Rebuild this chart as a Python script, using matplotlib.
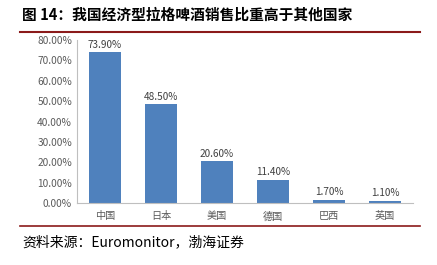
import matplotlib
matplotlib.use('Agg')
from matplotlib import pyplot as plt
from matplotlib.lines import Line2D
from matplotlib.ticker import FuncFormatter

plt.rcParams['font.family'] = ['Noto Sans CJK SC', 'DejaVu Sans']

# Share of economy lager in beer sales, by country (%)
countries = ['中国', '日本', '美国', '德国', '巴西', '英国']
shares = [73.90, 48.50, 20.60, 11.40, 1.70, 1.10]
value_labels = ['73.90%', '48.50%', '20.60%', '11.40%', '1.70%', '1.10%']

fig = plt.figure(figsize=(4.37, 2.65), dpi=100)
ax = fig.add_axes([0.176, 0.234, 0.769, 0.615])

x = range(len(countries))
bars = ax.bar(x, shares, width=0.57, color='#4F81BD', zorder=2)
for b, lab in zip(bars, value_labels):
	ax.text(b.get_x() + b.get_width() / 2, b.get_height() + 1.2, lab,
		ha='center', va='bottom', fontsize=7.2, color='#404040')

ax.set_xlim(-0.5, len(countries) - 0.5)
ax.set_ylim(0, 80)
ax.set_yticks(range(0, 81, 10))
ax.yaxis.set_major_formatter(FuncFormatter(lambda v, p: '%.2f%%' % v))
ax.set_xticks(list(x))
ax.set_xticklabels(countries)
ax.tick_params(axis='both', labelsize=7.3, colors='#595959', length=0)
ax.tick_params(axis='x', pad=6)

for side in ['top', 'right']:
	ax.spines[side].set_visible(False)
for side in ['left', 'bottom']:
	ax.spines[side].set_color('#BFBFBF')
	ax.spines[side].set_linewidth(0.8)

# Title, rules and source note
fig.text(0.05, 0.945, '图 14：我国经济型拉格啤酒销售比重高于其他国家',
	fontsize=10.6, fontweight='bold', va='center', ha='left', color='#000000')
fig.add_artist(Line2D([0.045, 0.96], [0.879, 0.879], color='#8B1A1A', linewidth=1.5))
fig.add_artist(Line2D([0.045, 0.96], [0.147, 0.147], color='#8B1A1A', linewidth=1.2))
fig.text(0.05, 0.087, '资料来源：Euromonitor，渤海证券', fontsize=10, style='italic',
	va='center', ha='left', color='#000000')

fig.savefig('out.png', dpi=100)
